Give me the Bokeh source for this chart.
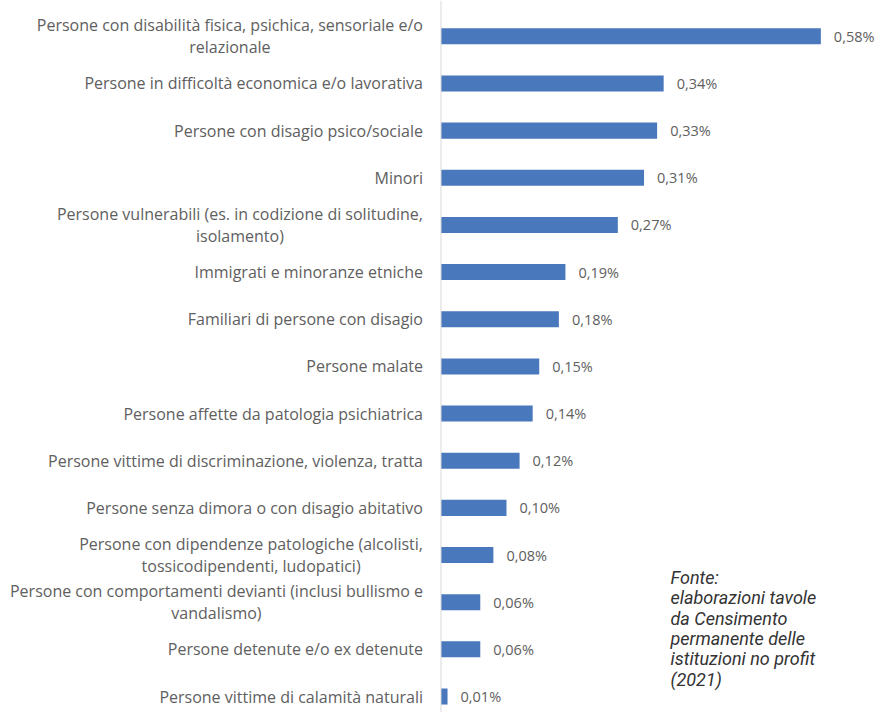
from bokeh.plotting import figure
from bokeh.models import ColumnDataSource, Range1d, Span, Label
from bokeh.core.properties import value
from bokeh.embed import file_html
from bokeh.resources import INLINE

categories = [
    "Persone con disabilità fisica, psichica, sensoriale e/o\nrelazionale",
    "Persone in difficoltà economica e/o lavorativa",
    "Persone con disagio psico/sociale",
    "Minori",
    "Persone vulnerabili (es. in codizione di solitudine,\nisolamento)",
    "Immigrati e minoranze etniche",
    "Familiari di persone con disagio",
    "Persone malate",
    "Persone affette da patologia psichiatrica",
    "Persone vittime di discriminazione, violenza, tratta",
    "Persone senza dimora o con disagio abitativo",
    "Persone con dipendenze patologiche (alcolisti,\ntossicodipendenti, ludopatici)",
    "Persone con comportamenti devianti (inclusi bullismo e\nvandalismo)",
    "Persone detenute e/o ex detenute",
    "Persone vittime di calamità naturali",
]
values = [0.58, 0.34, 0.33, 0.31, 0.27, 0.19, 0.18, 0.15, 0.14, 0.12, 0.10, 0.08, 0.06, 0.06, 0.01]
value_labels = ["0,58%", "0,34%", "0,33%", "0,31%", "0,27%", "0,19%", "0,18%", "0,15%",
                "0,14%", "0,12%", "0,10%", "0,08%", "0,06%", "0,06%", "0,01%"]
source_lines = ["Fonte:", "elaborazioni tavole", "da Censimento", "permanente delle",
                "istituzioni no profit", "(2021)"]

pos = list(range(len(categories)))
src = ColumnDataSource(dict(y=pos, v=values, cat=categories, lab=value_labels))

W, H = 875, 712
p = figure(width=W, height=H, output_backend="svg", toolbar_location=None,
           x_range=Range1d(-0.6725, 0.6634), y_range=Range1d(14.339, -0.7591),
           min_border=0, outline_line_color=None)
p.axis.visible = False
p.grid.visible = False
p.background_fill_color = "white"

p.add_layout(Span(location=0, dimension="height", line_color="#d9d9d9", line_width=1))

p.hbar(y="y", left=0, right="v", height=0.34, source=src,
       fill_color="#4a78bd", line_color=None)

p.text(x=0, y="y", text="cat", source=src, x_offset=-18,
       anchor="center_right", text_align="center", text_baseline="middle",
       text_font=value("Open Sans"), text_font_size="16px", text_color="#606060",
       text_line_height=1.0)

p.text(x="v", y="y", text="lab", source=src, x_offset=13,
       text_align="left", text_baseline="middle",
       text_font=value("Open Sans"), text_font_size="14.5px", text_color="#606060")

y0 = H - 577
for i, line in enumerate(source_lines):
    p.add_layout(Label(x=670, y=y0 - i * 20.3, x_units="screen", y_units="screen",
                       text=line, text_font="Roboto", text_font_style="italic",
                       text_font_size="18px", text_color="#333333",
                       text_baseline="middle", text_align="left"))

open("out.html", "w").write(file_html(p, INLINE))
